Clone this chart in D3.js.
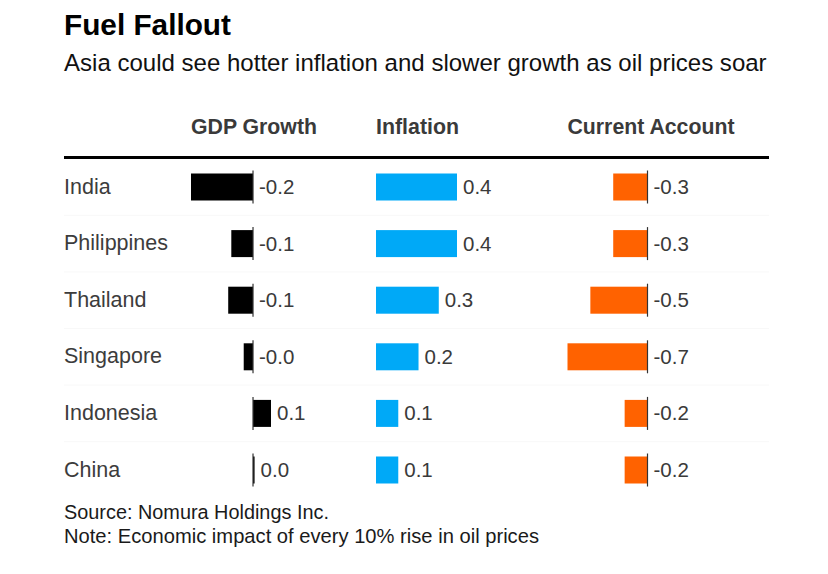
<!DOCTYPE html>
<html>
<head>
<meta charset="utf-8">
<script src="https://cdn.jsdelivr.net/npm/d3@7"></script>
<style>
  html, body { margin: 0; padding: 0; background: #fff; }
  svg { display: block; }
  text { font-family: "Liberation Sans", Arial, Helvetica, sans-serif; }
</style>
</head>
<body>
<svg id="chart" width="828" height="574"></svg>
<script>
// ---- Data ----
const countries = ["India", "Philippines", "Thailand", "Singapore", "Indonesia", "China"];
const gdpGrowth = [-0.2, -0.07, -0.08, -0.03, 0.058, 0.005];
const inflation = [0.4, 0.4, 0.31, 0.21, 0.11, 0.11];
const currentAccount = [-0.3, -0.3, -0.5, -0.7, -0.2, -0.2];
const columnTitles = ["GDP Growth", "Inflation", "Current Account"];
const titleText = "Fuel Fallout";
const subtitleText = "Asia could see hotter inflation and slower growth as oil prices soar";
const sourceText = "Source: Nomura Holdings Inc.";
const noteText = "Note: Economic impact of every 10% rise in oil prices";

// ---- Layout ----
const svg = d3.select("#chart");
const left = 64, right = 769;
const columns = [
  { title: columnTitles[0], values: gdpGrowth, color: "#000000", x0: 191, width: 80, zeroLine: true, titleW: 126 },
  { title: columnTitles[1], values: inflation, color: "#00a9f7", x0: 376, width: 81, zeroLine: false, titleW: 83 },
  { title: columnTitles[2], values: currentAccount, color: "#ff6200", x0: 567.5, width: 80, zeroLine: true, titleW: 167 }
];

function fit(sel, w) {
  const fs = parseFloat(sel.attr("font-size"));
  const cur = sel.node().getComputedTextLength();
  sel.attr("font-size", (fs * w / cur).toFixed(2));
  return sel;
}

// Title & subtitle
fit(svg.append("text").attr("x", left).attr("y", 35).attr("font-size", 30)
  .attr("font-weight", "bold").attr("fill", "#000").text(titleText), 167);
fit(svg.append("text").attr("x", left).attr("y", 71).attr("font-size", 22)
  .attr("fill", "#111").text(subtitleText), 703);

// Rows
const y = d3.scaleBand().domain(countries).range([158.7, 498.3])
  .paddingInner(0.523).paddingOuter(0.2615);
const step = y.step();

// faint separators
svg.append("g").selectAll("line").data(countries.slice(1)).join("line")
  .attr("x1", left).attr("x2", right)
  .attr("y1", d => y(d) - (step - y.bandwidth()) / 2)
  .attr("y2", d => y(d) - (step - y.bandwidth()) / 2)
  .attr("stroke", "#f8f8f8").attr("stroke-width", 1);

// header rule
svg.append("line").attr("x1", left).attr("x2", right).attr("y1", 157.5).attr("y2", 157.5)
  .attr("stroke", "#000").attr("stroke-width", 3);

// Row labels
const rowLabels = svg.append("g").selectAll("text").data(countries).join("text")
  .attr("x", left).attr("y", d => y(d) + y.bandwidth() / 2 + 6.5)
  .attr("font-size", 20).attr("fill", "#3c3c3c").text(d => d);
const phil = rowLabels.filter(d => d === "Philippines");
const fsRow = 20 * 104 / phil.node().getComputedTextLength();
rowLabels.attr("font-size", fsRow.toFixed(2));

// Columns
columns.forEach(col => {
  const ext = [Math.min(0, d3.min(col.values)), Math.max(0, d3.max(col.values))];
  const x = d3.scaleLinear().domain(ext).range([col.x0, col.x0 + col.width]);
  const g = svg.append("g");
  const rows = countries.map((c, i) => ({ c, v: col.values[i] }));

  fit(g.append("text").attr("x", col.x0).attr("y", 134).attr("font-size", 20)
    .attr("font-weight", "bold").attr("fill", "#3a3a3a").text(col.title), col.titleW);

  g.selectAll("rect").data(rows).join("rect")
    .attr("x", d => Math.min(x(0), x(d.v)))
    .attr("y", d => y(d.c))
    .attr("width", d => Math.max(1.5, Math.abs(x(d.v) - x(0))))
    .attr("height", y.bandwidth())
    .attr("fill", col.color);

  if (col.zeroLine) {
    g.selectAll("line.zero").data(rows).join("line").attr("class", "zero")
      .attr("x1", x(0)).attr("x2", x(0))
      .attr("y1", d => y(d.c) - 3).attr("y2", d => y(d.c) + y.bandwidth() + 3)
      .attr("stroke", "#333").attr("stroke-width", 1.2);
  }

  g.selectAll("text.val").data(rows).join("text").attr("class", "val")
    .attr("x", d => Math.max(x(0), x(d.v)) + 6)
    .attr("y", d => y(d.c) + y.bandwidth() / 2 + 7)
    .attr("font-size", 20.5).attr("fill", "#3a3a3a")
    .text(d => d.v.toFixed(1));
});

// Footer
fit(svg.append("text").attr("x", left).attr("y", 519).attr("font-size", 18)
  .attr("fill", "#1a1a1a").text(sourceText), 265);
fit(svg.append("text").attr("x", left).attr("y", 542.5).attr("font-size", 18)
  .attr("fill", "#1a1a1a").text(noteText), 475);
</script>
</body>
</html>
